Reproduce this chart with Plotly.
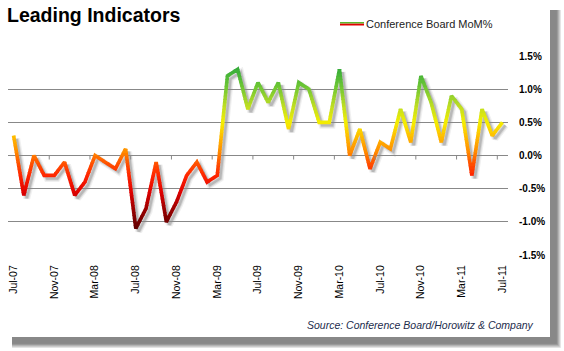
import plotly.graph_objects as go
import pandas as pd

# ---------------- data ----------------
months = pd.date_range("2007-07-01", periods=49, freq="MS").strftime("%b-%y").tolist()
mom_pct = [0.3, -0.6, 0.0, -0.3, -0.3, -0.1, -0.6, -0.4, 0.0, -0.1, -0.2, 0.1,
           -1.1, -0.8, -0.1, -1.0, -0.7, -0.3, -0.1, -0.4, -0.3, 1.2, 1.3, 0.7,
           1.1, 0.8, 1.1, 0.4, 1.1, 1.0, 0.5, 0.5, 1.3, 0.0, 0.4, -0.2, 0.2, 0.1,
           0.7, 0.2, 1.2, 0.8, 0.2, 0.9, 0.7, -0.3, 0.7, 0.3, 0.5]
tick_labels = ["Jul-07", "Nov-07", "Mar-08", "Jul-08", "Nov-08", "Mar-09", "Jul-09",
               "Nov-09", "Mar-10", "Jul-10", "Nov-10", "Mar-11", "Jul-11"]
y_ticks = [-1.5, -1.0, -0.5, 0.0, 0.5, 1.0, 1.5]
y_tick_text = ["-1.5%", "-1.0%", "-0.5%", "0.0%", "0.5%", "1.0%", "1.5%"]
series_name = "Conference Board MoM%"

# ---------------- geometry / style ----------------
W, H = 564, 351
L, R, T, B = 8, 56, 56, 96
PW, PH = W - L - R, H - T - B
XR = [-0.55, 48.55]
YR = [-1.5, 1.5]
px_x = PW / (XR[1] - XR[0])
px_y = PH / (YR[1] - YR[0])
GRID = "#888888"
FONT = "Liberation Sans"

stops = [(-1.5, (70, 0, 0)), (-1.1, (95, 0, 0)), (-0.8, (155, 0, 0)), (-0.55, (222, 0, 0)),
         (-0.3, (255, 36, 0)), (-0.1, (255, 85, 0)), (0.05, (255, 136, 0)), (0.3, (255, 190, 0)),
         (0.5, (245, 238, 0)), (0.75, (190, 222, 34)), (1.0, (120, 202, 51)), (1.3, (56, 174, 58)),
         (1.5, (40, 150, 45))]


def color_at(v):
    if v <= stops[0][0]:
        c = stops[0][1]
    elif v >= stops[-1][0]:
        c = stops[-1][1]
    else:
        for (a, ca), (b, cb) in zip(stops[:-1], stops[1:]):
            if a <= v <= b:
                t = (v - a) / (b - a)
                c = tuple(ca[k] + (cb[k] - ca[k]) * t for k in range(3))
                break
    return "rgb(%d,%d,%d)" % tuple(int(round(x)) for x in c)


def pxx(p):
    return (p - L) / PW


def pxy(p):
    return (T + PH - p) / PH


fig = go.Figure()

# soft drop shadow of the line (drawn on a subplot whose ranges are shifted a few pixels)
for w, col in [(7, "rgba(0,0,0,0.06)"), (4.5, "rgba(0,0,0,0.10)"), (2.5, "rgba(0,0,0,0.14)")]:
    fig.add_trace(go.Scatter(x=months, y=mom_pct, mode="lines", xaxis="x", yaxis="y",
                             line=dict(color=col, width=w, simplify=False),
                             showlegend=False, hoverinfo="skip"))

layout_axes = {}
dxu = 3 / px_x
dyu = 3 / px_y
layout_axes["xaxis"] = dict(domain=[0, 1], range=[XR[0] - dxu, XR[1] - dxu], visible=False,
                            anchor="y", type="category", categoryarray=months)
layout_axes["yaxis"] = dict(domain=[0, 1], range=[YR[0] + dyu, YR[1] + dyu], visible=False, anchor="x")

layout_axes["xaxis2"] = dict(domain=[0, 1], range=XR, anchor="y2", type="category", categoryarray=months,
                             tickmode="array", tickvals=tick_labels, ticktext=tick_labels, tickangle=-90,
                             ticks="outside", ticklen=5, tickcolor="rgba(0,0,0,0)",
                             showgrid=False, showline=False, zeroline=False,
                             tickfont=dict(family=FONT, size=10.5, color="#000"))
layout_axes["yaxis2"] = dict(domain=[0, 1], range=YR, anchor="x2", side="right",
                             tickmode="array", tickvals=y_ticks, ticktext=y_tick_text,
                             showgrid=True, gridcolor=GRID, gridwidth=1, zeroline=False, showline=False,
                             ticks="outside", ticklen=8, tickcolor="rgba(0,0,0,0)",
                             tickfont=dict(family=FONT, size=10, color="#000", weight="bold"))
layout_axes["yaxis3"] = dict(overlaying="y2", range=YR, anchor="x2", side="left",
                             tickmode="array", tickvals=y_ticks, showticklabels=False,
                             showgrid=False, zeroline=False, showline=True, linecolor=GRID, linewidth=1,
                             ticks="outside", ticklen=3, tickcolor=GRID, tickwidth=1)

# colour bands: the same line drawn in several horizontal strips, each clipped to its strip
NB = 60
ov = 0.8 / PH
for k in range(NB):
    d0 = max(0.0, k / NB - ov)
    d1 = (k + 1) / NB
    r0 = YR[0] + d0 * (YR[1] - YR[0])
    r1 = YR[0] + d1 * (YR[1] - YR[0])
    ax = 4 + k
    layout_axes["yaxis%d" % ax] = dict(domain=[d0, d1], range=[r0, r1], visible=False, anchor="x2")
    fig.add_trace(go.Scatter(x=months, y=mom_pct, mode="lines", xaxis="x2", yaxis="y%d" % ax,
                             line=dict(color=color_at((r0 + r1) / 2), width=3.6, simplify=False),
                             showlegend=False, hoverinfo="skip", name=series_name))

shapes = []
# page drop shadow (right and bottom) + white page
for k in range(8):
    e = 4 - k * 0.6
    shapes.append(dict(type="rect", xref="paper", yref="paper", layer="below",
                       x0=pxx(12), x1=pxx(557 + e), y0=pxy(344 + e), y1=pxy(10),
                       fillcolor="rgba(0,0,0,0.075)", line=dict(width=0)))
shapes.append(dict(type="rect", xref="paper", yref="paper", layer="below",
                   x0=pxx(-2), x1=pxx(550), y0=pxy(337), y1=pxy(-2),
                   fillcolor="white", line=dict(width=0)))
# tick marks between categories on the zero line
idx = [months.index(t) for t in tick_labels]
for i in idx[1:]:
    shapes.append(dict(type="line", xref="x2", yref="y2", x0=i - 0.5, x1=i - 0.5,
                       y0=0, y1=-4 / px_y, line=dict(color=GRID, width=1)))
# legend swatch
shapes.append(dict(type="line", xref="paper", yref="paper", x0=pxx(340), x1=pxx(364),
                   y0=pxy(22.8), y1=pxy(22.8), line=dict(color="#5cb82c", width=1.6)))
shapes.append(dict(type="line", xref="paper", yref="paper", x0=pxx(340), x1=pxx(364),
                   y0=pxy(24.6), y1=pxy(24.6), line=dict(color="#e00000", width=1.8)))

annotations = [
    dict(text=series_name, xref="paper", yref="paper", x=pxx(364), y=pxy(23.5),
         xanchor="left", yanchor="middle", showarrow=False,
         font=dict(family=FONT, size=11, color="#222")),
    dict(text="<i>Source: Conference Board/Horowitz & Company</i>", xref="paper", yref="paper",
         x=pxx(536), y=pxy(325), xanchor="right", yanchor="middle", showarrow=False,
         font=dict(family=FONT, size=10.5, color="#1c2c4c")),
]

fig.update_layout(
    width=W, height=H,
    margin=dict(l=L, r=R, t=T, b=B, pad=0),
    paper_bgcolor="white", plot_bgcolor="rgba(0,0,0,0)",
    title=dict(text="<b>Leading Indicators</b>", x=7 / W, xanchor="left", xref="container",
               y=1 - 8 / H, yanchor="top", yref="container",
               font=dict(family=FONT, size=19.5, color="#000")),
    showlegend=False,
    shapes=shapes, annotations=annotations,
    **layout_axes,
)

fig.write_html("out.html")
